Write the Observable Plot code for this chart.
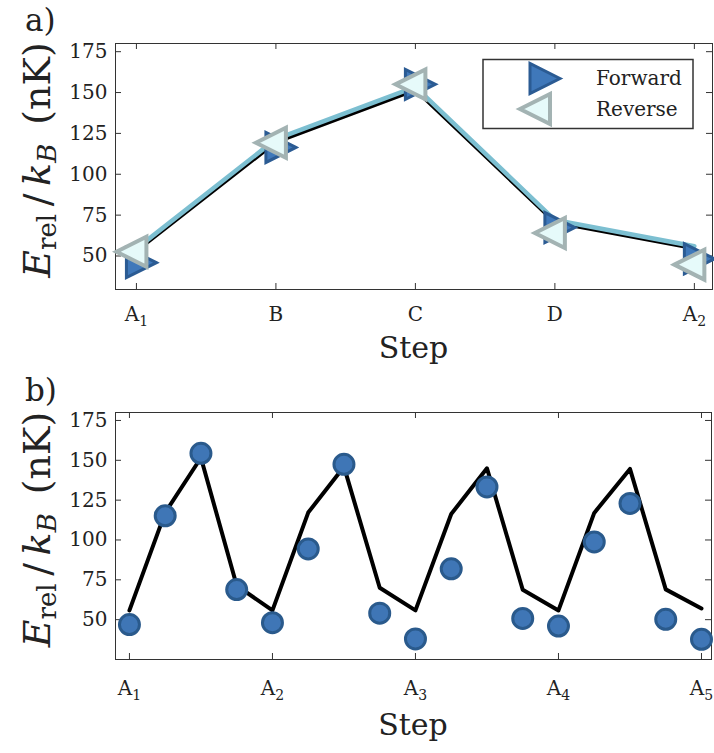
<!DOCTYPE html>
<html><head><meta charset="utf-8">
<script src="https://cdn.jsdelivr.net/npm/d3@7"></script>
<script src="https://cdn.jsdelivr.net/npm/@observablehq/plot@0.6"></script>
<style>
body{margin:0;background:#fff;}
#wrap{width:714px;height:753px;overflow:hidden;}
svg{display:block;}
</style></head><body><div id="wrap"></div>
<script>
// ---------- data: panel a ----------
const stepsA = ["A₁", "B", "C", "D", "A₂"];
const stepIndexA = [0, 1, 2, 3, 4];
const forwardA = [45.9, 116.4, 155, 67.4, 48.3];
const reverseA = [52.6, 119.3, 155, 64.1, 44.7];
const lineForwardA = [53, 119.5, 151.5, 70.5, 54.5];
const lineReverseA = [54.5, 121.5, 153.5, 72, 56];

// ---------- data: panel b ----------
const stepIndexB = [0,1,2,3,4,5,6,7,8,9,10,11,12,13,14,15,16];
const lineB = [55.8, 117.2, 151.6, 71.4, 55.8, 117.2, 146, 70, 55.8, 116.3, 145, 68.8, 55.8, 117, 144.6, 69, 57];
const measuredB = [46.9, 115.2, 154.4, 68.9, 48.1, 94.4, 147.5, 54.1, 37.9, 81.9, 133.3, 50.8, 46, 98.8, 122.9, 50.2, 37.7];
const tickPosB = [0, 4, 8, 12, 16];
const tickLabelsB = ["A₁", "A₂", "A₃", "A₄", "A₅"];

const yTicks = [50, 75, 100, 125, 150, 175];

const tableA = stepIndexA.map((i) => ({i, forward: forwardA[i], reverse: reverseA[i], lf: lineForwardA[i], lr: lineReverseA[i]}));
const tableB = stepIndexB.map((i) => ({i, line: lineB[i], meas: measuredB[i]}));

// ---------- styling ----------
const serif = "DejaVu Serif";
const W = 714;
const axisColor = "#333";
const textColor = "#222";
const subDigits = {"₁": "1", "₂": "2", "₃": "3", "₄": "4", "₅": "5"};

const triRight = {draw(ctx, size) { const r = Math.sqrt(size / Math.PI); ctx.moveTo(r, 0); ctx.lineTo(-r, -r); ctx.lineTo(-r, r); ctx.closePath(); }};
const triLeft = {draw(ctx, size) { const r = Math.sqrt(size / Math.PI); ctx.moveTo(-r, 0); ctx.lineTo(r, -r); ctx.lineTo(r, r); ctx.closePath(); }};

const fwdStyle = {fill: "#3f78ba", stroke: "#2b5b93", strokeWidth: 3};
const revStyle = {fill: "#e6fafa", stroke: "#a3b3b3", strokeWidth: 4};

function frameTicks(xt, yt, fh, fw, len) {
  return [
    Plot.tickX(xt, {x: (d) => d, insetTop: fh - len, stroke: axisColor, strokeWidth: 1}),
    Plot.tickX(xt, {x: (d) => d, insetBottom: fh - len, stroke: axisColor, strokeWidth: 1}),
    Plot.tickY(yt, {y: (d) => d, insetRight: fw - len, stroke: axisColor, strokeWidth: 1}),
    Plot.tickY(yt, {y: (d) => d, insetLeft: fw - len, stroke: axisColor, strokeWidth: 1})
  ];
}

function decorate(svgNode, L, panel, labelBaseline, stepBaseline) {
  const svg = d3.select(svgNode);
  // subscripts in x tick labels: rebuild as tspans
  svg.selectAll('g[aria-label="x-axis tick label"] text').each(function () {
    const t = d3.select(this);
    const s = t.text();
    const last = s.slice(-1);
    if (subDigits[last]) {
      t.text(null);
      t.append("tspan").text(s.slice(0, -1));
      t.append("tspan").attr("font-size", 14).attr("dy", 5).text(subDigits[last]);
    }
  });
  const cx = (L.ml + W - L.mr) / 2;
  svg.append("text").attr("x", cx).attr("y", stepBaseline)
    .attr("text-anchor", "middle").attr("font-size", 30).attr("fill", textColor).text("Step");
  svg.append("text").attr("x", 25).attr("y", labelBaseline).attr("text-anchor", "start")
    .attr("font-size", 31).attr("fill", textColor).text(panel);
  const cy = (L.mt + L.h - L.mb) / 2 - 6;
  const yl = svg.append("text").attr("transform", `translate(50,${cy}) rotate(-90)`)
    .attr("text-anchor", "middle").attr("font-size", 38).attr("fill", textColor);
  yl.append("tspan").attr("font-style", "italic").text("E");
  yl.append("tspan").attr("font-size", 26).attr("dy", 6).text("rel");
  yl.append("tspan").attr("dy", -6).text("\u2009/\u2009");
  yl.append("tspan").attr("font-style", "italic").text("k");
  yl.append("tspan").attr("font-style", "italic").attr("font-size", 26).attr("dy", 6).text("B");
  yl.append("tspan").attr("dy", -6).text("\u2002(nK)");
  return svg;
}

// ---------- panel a ----------
const LA = {h: 376, mt: 43, mb: 87, ml: 115, mr: 2};
const fhA = LA.h - LA.mt - LA.mb, fwA = W - LA.ml - LA.mr;
const chartA = Plot.plot({
  width: W, height: LA.h, marginTop: LA.mt, marginBottom: LA.mb, marginLeft: LA.ml, marginRight: LA.mr,
  style: {fontFamily: serif, fontSize: "20px", color: textColor, background: "white", overflow: "visible"},
  x: {domain: [-0.15, 4.13]},
  y: {domain: [29.5, 180]},
  marks: [
    Plot.frame({stroke: axisColor, strokeWidth: 1}),
    ...frameTicks(stepIndexA, yTicks, fhA, fwA, 6),
    Plot.axisX(stepIndexA, {tickSize: 0, tickPadding: 17, tickFormat: (i) => stepsA[i], label: null, fill: textColor}),
    Plot.axisY(yTicks, {tickSize: 0, tickPadding: 8, label: null, fill: textColor}),
    Plot.line(tableA, {x: "i", y: "lf", stroke: "black", strokeWidth: 3.5}),
    Plot.line(tableA, {x: "i", y: "lr", stroke: "#7cbfd1", strokeWidth: 4.5}),
    Plot.dot(tableA, {x: "i", y: "forward", symbol: triRight, r: 15, dx: 5, ...fwdStyle}),
    Plot.dot(tableA, {x: "i", y: "reverse", symbol: triLeft, r: 15, dx: -5, ...revStyle})
  ]
});
const svgA = decorate(chartA, LA, "a)", 31, 358);
// legend
const lg = svgA.append("g").attr("text-anchor", "start");
lg.append("rect").attr("x", 483).attr("y", 59.5).attr("width", 210).attr("height", 69)
  .attr("fill", "white").attr("stroke", axisColor).attr("stroke-width", 1.5);
lg.append("path").attr("transform", "translate(545,78.5)")
  .attr("d", d3.symbol(triRight, Math.PI * 15 * 15)())
  .attr("fill", fwdStyle.fill).attr("stroke", fwdStyle.stroke).attr("stroke-width", fwdStyle.strokeWidth);
lg.append("path").attr("transform", "translate(535,109)")
  .attr("d", d3.symbol(triLeft, Math.PI * 15 * 15)())
  .attr("fill", revStyle.fill).attr("stroke", revStyle.stroke).attr("stroke-width", revStyle.strokeWidth);
lg.append("text").attr("x", 596).attr("y", 85).attr("font-size", 20).attr("fill", textColor).text("Forward");
lg.append("text").attr("x", 596).attr("y", 116).attr("font-size", 20).attr("fill", textColor).text("Reverse");
document.getElementById("wrap").append(chartA);

// ---------- panel b ----------
const LB = {h: 377, mt: 36, mb: 94, ml: 115, mr: 3};
const fhB = LB.h - LB.mt - LB.mb, fwB = W - LB.ml - LB.mr;
const chartB = Plot.plot({
  width: W, height: LB.h, marginTop: LB.mt, marginBottom: LB.mb, marginLeft: LB.ml, marginRight: LB.mr,
  style: {fontFamily: serif, fontSize: "20px", color: textColor, background: "white", overflow: "visible"},
  x: {domain: [-0.39, 16.28]},
  y: {domain: [25, 180]},
  marks: [
    Plot.frame({stroke: axisColor, strokeWidth: 1}),
    ...frameTicks(tickPosB, yTicks, fhB, fwB, 6),
    Plot.axisX(tickPosB, {tickSize: 0, tickPadding: 21, tickFormat: (v) => tickLabelsB[tickPosB.indexOf(v)], label: null, fill: textColor}),
    Plot.axisY(yTicks, {tickSize: 0, tickPadding: 8, label: null, fill: textColor}),
    Plot.line(tableB, {x: "i", y: "line", stroke: "black", strokeWidth: 4}),
    Plot.dot(tableB, {x: "i", y: "meas", r: 10, fill: "#3f76b6", stroke: "#2a5a8c", strokeWidth: 3})
  ]
});
decorate(chartB, LB, "b)", 25, 359);
document.getElementById("wrap").append(chartB);
</script>
</body></html>
